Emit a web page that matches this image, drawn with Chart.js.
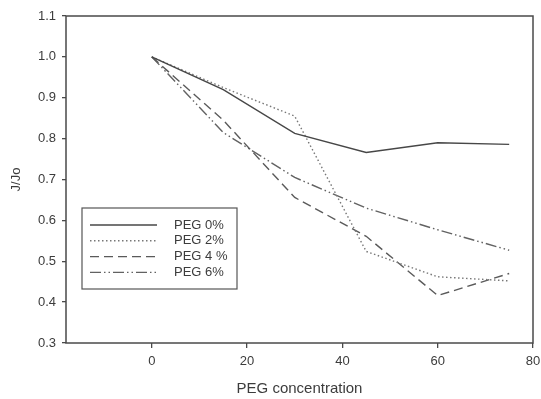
<!DOCTYPE html>
<html>

<head>
  <meta charset="UTF-8">
  <script src="https://cdn.jsdelivr.net/npm/chart.js"></script>
  <title>J/Jo vs PEG concentration</title>
  <style>
    body { margin: 0; background: #fff; }
    canvas { display: block; }
  </style>
</head>

<body>
  <canvas id="grafico" width="541" height="399"></canvas>
</body>

</html>

<script>
  // dados
  var concentracao = [0, 15, 30, 45, 60, 75];
  var peg0 = [1.0, 0.92, 0.813, 0.766, 0.79, 0.786];
  var peg2 = [1.0, 0.925, 0.855, 0.524, 0.462, 0.452];
  var peg4 = [1.0, 0.845, 0.656, 0.561, 0.416, 0.47];
  var peg6 = [1.0, 0.815, 0.705, 0.63, 0.577, 0.527];
  var nomes = ["PEG 0%", "PEG 2%", "PEG 4 %", "PEG 6%"];
  var xTicks = [0, 20, 40, 60, 80];
  var yTicks = [0.3, 0.4, 0.5, 0.6, 0.7, 0.8, 0.9, 1.0, 1.1];

  var corTexto = "#3c3c3c";
  var corEixo = "#4a4a4a";

  function serie(nome, valores, cor, traco) {
    return {
      label: nome,
      data: valores.map(function (v, i) { return { x: concentracao[i], y: v }; }),
      borderColor: cor,
      borderWidth: 1.4,
      borderDash: traco,
      pointRadius: 0,
      fill: false,
      tension: 0
    };
  }

  // legenda dentro do grafico, como no original
  var legendaBox = {
    id: "legendaBox",
    afterDraw: function (chart) {
      var ctx = chart.ctx;
      var x0 = 82, y0 = 208, w = 155, h = 81;
      ctx.save();
      ctx.fillStyle = "#fff";
      ctx.fillRect(x0, y0, w, h);
      ctx.strokeStyle = "#555";
      ctx.lineWidth = 1.2;
      ctx.setLineDash([]);
      ctx.strokeRect(x0, y0, w, h);
      ctx.font = "13px 'Liberation Sans', Arial, sans-serif";
      ctx.textBaseline = "middle";
      chart.data.datasets.forEach(function (ds, i) {
        var y = 225 + i * 15.8;
        ctx.strokeStyle = ds.borderColor;
        ctx.lineWidth = ds.borderWidth;
        ctx.setLineDash(ds.borderDash || []);
        ctx.beginPath();
        ctx.moveTo(90, y);
        ctx.lineTo(157, y);
        ctx.stroke();
        ctx.fillStyle = corTexto;
        ctx.fillText(ds.label, 174, y);
      });
      ctx.restore();
    }
  };

  // moldura em volta da area do grafico
  var moldura = {
    id: "moldura",
    afterDraw: function (chart) {
      var a = chart.chartArea;
      var ctx = chart.ctx;
      ctx.save();
      ctx.strokeStyle = corEixo;
      ctx.lineWidth = 1.5;
      ctx.setLineDash([]);
      ctx.strokeRect(a.left, a.top, a.right - a.left, a.bottom - a.top);
      ctx.restore();
    }
  };

  const config = {
    type: "line",
    data: {
      datasets: [
        serie(nomes[0], peg0, "#474747", []),
        serie(nomes[1], peg2, "#777777", [1.5, 2.5]),
        serie(nomes[2], peg4, "#5a5a5a", [9, 5]),
        serie(nomes[3], peg6, "#626262", [11, 3, 1.5, 3, 1.5, 3])
      ]
    },
    options: {
      responsive: false,
      animation: false,
      devicePixelRatio: 1,
      layout: { padding: { top: 16, right: 8, left: 0, bottom: 0 } },
      plugins: {
        legend: { display: false },
        tooltip: { enabled: false }
      },
      scales: {
        x: {
          type: "linear",
          min: -18,
          max: 80,
          afterBuildTicks: function (s) { s.ticks = xTicks.map(function (v) { return { value: v }; }); },
          afterFit: function (s) { s.height = 56; s.paddingRight = 0; s.paddingLeft = 0; },
          grid: { drawOnChartArea: false, drawTicks: true, tickLength: 5, color: corEixo, lineWidth: 1.3 },
          border: { display: false },
          ticks: {
            color: corTexto,
            padding: 6,
            maxRotation: 0,
            font: { family: "'Liberation Sans', Arial, sans-serif", size: 13 }
          },
          title: {
            display: true,
            text: "PEG concentration",
            color: corTexto,
            padding: { top: 0, bottom: 1 },
            font: { family: "'Liberation Sans', Arial, sans-serif", size: 15 }
          }
        },
        y: {
          min: 0.3,
          max: 1.1,
          afterBuildTicks: function (s) { s.ticks = yTicks.map(function (v) { return { value: v }; }); },
          afterFit: function (s) { s.width = 66; s.paddingTop = 0; s.paddingBottom = 0; },
          grid: { drawOnChartArea: false, drawTicks: true, tickLength: 4, color: corEixo, lineWidth: 1.3 },
          border: { display: false },
          ticks: {
            color: corTexto,
            padding: 6,
            callback: function (v) { return Number(v).toFixed(1); },
            font: { family: "'Liberation Sans', Arial, sans-serif", size: 13 }
          },
          title: {
            display: true,
            text: "J/Jo",
            color: corTexto,
            padding: { top: 9, bottom: 0 },
            font: { family: "'Liberation Sans', Arial, sans-serif", size: 13 }
          }
        }
      }
    },
    plugins: [moldura, legendaBox]
  };

  const meuGrafico = new Chart(document.getElementById("grafico"), config);
</script>
